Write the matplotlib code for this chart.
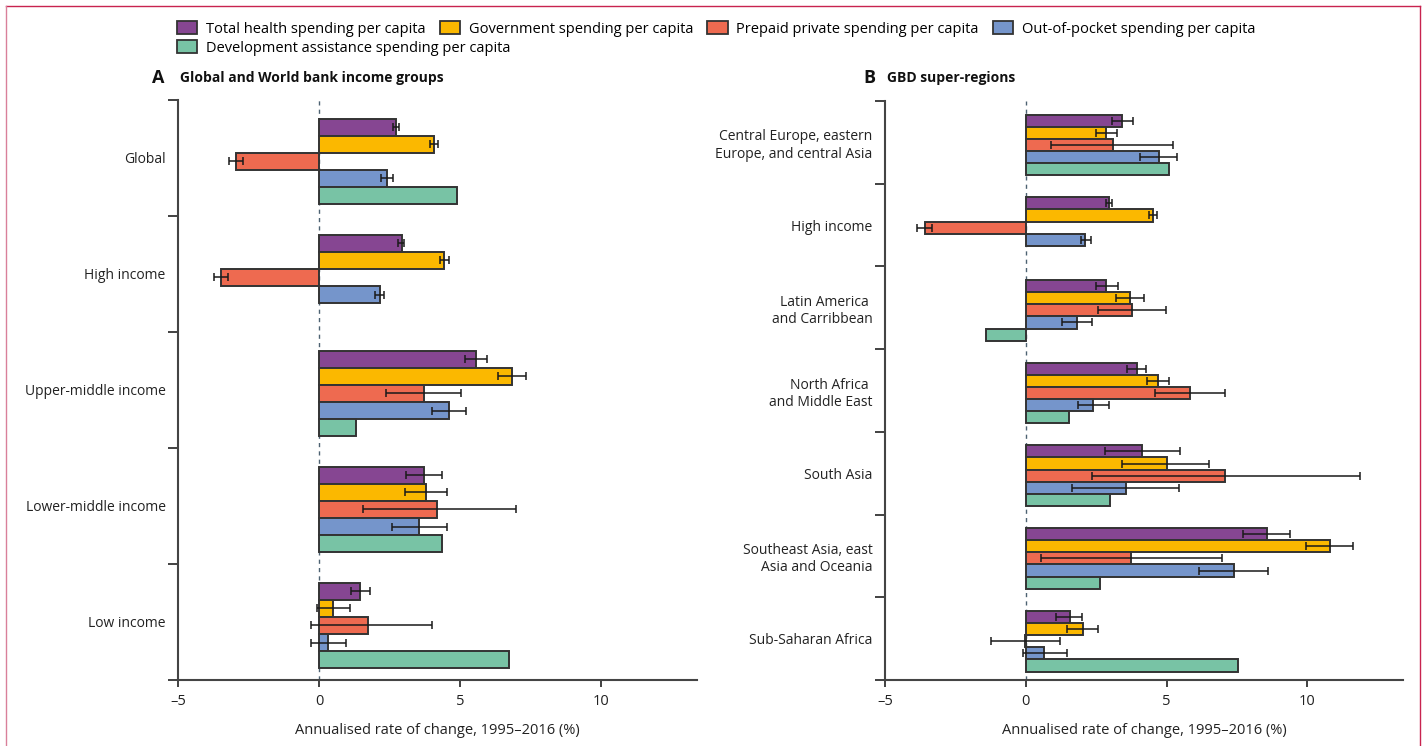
import numpy as np
import matplotlib
matplotlib.use('Agg')
import matplotlib.pyplot as plt
from matplotlib.patches import Patch
from matplotlib.lines import Line2D
from matplotlib import font_manager

nan = np.nan

# ---------------- data: panel A ----------------
groups_a = ['Global', 'High income', 'Upper-middle income', 'Lower-middle income', 'Low income']
total_a = [2.72, 2.93, 5.55, 3.71, 1.46]
total_a_lo = [2.62, 2.81, 5.17, 3.10, 1.12]
total_a_hi = [2.82, 3.02, 5.94, 4.35, 1.79]
gov_a = [4.07, 4.44, 6.85, 3.80, 0.51]
gov_a_lo = [3.94, 4.30, 6.35, 3.06, -0.09]
gov_a_hi = [4.22, 4.59, 7.34, 4.55, 1.10]
prepaid_a = [-2.96, -3.49, 3.73, 4.18, 1.72]
prepaid_a_lo = [-3.20, -3.74, 2.37, 1.57, -0.29]
prepaid_a_hi = [-2.71, -3.22, 5.02, 6.99, 4.02]
oop_a = [2.40, 2.15, 4.60, 3.54, 0.33]
oop_a_lo = [2.18, 1.99, 4.01, 2.57, -0.29]
oop_a_hi = [2.61, 2.32, 5.22, 4.54, 0.96]
dah_a = [4.88, nan, 1.30, 4.35, 6.73]

# ---------------- data: panel B ----------------
groups_b = ['Central Europe, eastern\nEurope, and central Asia', 'High income',
            'Latin America \nand Carribbean', 'North Africa \nand Middle East', 'South Asia',
            'Southeast Asia, east\nAsia and Oceania', 'Sub-Saharan Africa']
total_b = [3.41, 2.95, 2.85, 3.95, 4.11, 8.55, 1.56]
total_b_lo = [3.07, 2.84, 2.51, 3.60, 2.83, 7.70, 1.08]
total_b_hi = [3.81, 3.05, 3.26, 4.26, 5.46, 9.37, 2.00]
gov_b = [2.85, 4.51, 3.69, 4.68, 5.02, 10.79, 2.02]
gov_b_lo = [2.51, 4.37, 3.19, 4.30, 3.41, 9.96, 1.45]
gov_b_hi = [3.25, 4.67, 4.19, 5.07, 6.51, 11.62, 2.56]
prepaid_b = [3.10, -3.59, 3.76, 5.82, 7.08, 3.72, -0.02]
prepaid_b_lo = [0.89, -3.86, 2.55, 4.59, 2.36, 0.53, -1.23]
prepaid_b_hi = [5.22, -3.32, 4.98, 7.08, 11.86, 6.96, 1.20]
oop_b = [4.73, 2.12, 1.81, 2.38, 3.56, 7.38, 0.66]
oop_b_lo = [4.04, 1.95, 1.29, 1.84, 1.65, 6.16, -0.11]
oop_b_hi = [5.37, 2.31, 2.36, 2.96, 5.45, 8.62, 1.47]
dah_b = [5.10, nan, -1.43, 1.54, 2.99, 2.63, 7.52]

series_names = ['Total health spending per capita', 'Government spending per capita',
                'Prepaid private spending per capita', 'Out-of-pocket spending per capita',
                'Development assistance spending per capita']
colors = ['#864692', '#FBB800', '#EE6A50', '#7595CB', '#78C3A5']
x_ticks = [-5, 0, 5, 10]
x_ticklabels = ['\u20135', '0', '5', '10']

avail = {f.name for f in font_manager.fontManager.ttflist}
main_font = 'Open Sans' if 'Open Sans' in avail else 'DejaVu Sans'
plt.rcParams['font.family'] = [main_font, 'DejaVu Sans']

edge = '#333333'
bar_h = 0.147
offset = 0.03


def draw_panel(ax, groups, values, lows, highs):
    n = len(groups)
    centers = np.arange(n) + 0.5 + offset
    for j, (vals, lo, hi) in enumerate(zip(values, lows, highs)):
        vals = np.array(vals, dtype=float)
        ys = centers + (j - 2) * bar_h
        ok = ~np.isnan(vals)
        ax.barh(ys[ok], vals[ok], height=bar_h, color=colors[j], edgecolor=edge,
                linewidth=1.4, zorder=3)
        if lo is not None:
            lo = np.array(lo, dtype=float)
            hi = np.array(hi, dtype=float)
            ax.errorbar(vals, ys, xerr=[vals - lo, hi - vals], fmt='none', ecolor='#1a1a1a',
                        elinewidth=1.1, capsize=2.8, capthick=1.1, zorder=4)
    ax.axvline(0, color='#4d6272', lw=1.0, ls=(0, (3, 3)), zorder=2)
    ax.set_ylim(n, 0)
    ax.set_xlim(-5, 13.4)
    ax.set_yticks(np.arange(n + 1))
    ax.set_yticklabels([])
    ax.set_yticks(np.arange(n) + 0.5, minor=True)
    ax.set_yticklabels(groups, minor=True, fontsize=10, multialignment='right')
    ax.tick_params(axis='y', which='major', direction='out', length=7, width=1.3, color='#333333')
    ax.tick_params(axis='y', which='minor', length=0, pad=9, labelcolor='#222222')
    ax.set_xticks(x_ticks)
    ax.set_xticklabels(x_ticklabels, fontsize=10.5, color='#222222')
    ax.tick_params(axis='x', direction='out', length=5, width=1.3, color='#333333', pad=5)
    for s in ['top', 'right']:
        ax.spines[s].set_visible(False)
    for s in ['left', 'bottom']:
        ax.spines[s].set_color('#444444')
        ax.spines[s].set_linewidth(1.5)
    ax.set_xlabel('Annualised rate of change, 1995\u20132016 (%)', fontsize=10.5,
                  color='#222222', labelpad=10)


fig = plt.figure(figsize=(14.24, 7.46), dpi=100)
ax_a = fig.add_axes([0.125, 0.0885, 0.3645, 0.7775])
ax_b = fig.add_axes([0.6215, 0.0885, 0.3638, 0.7760])

draw_panel(ax_a, groups_a,
           [total_a, gov_a, prepaid_a, oop_a, dah_a],
           [total_a_lo, gov_a_lo, prepaid_a_lo, oop_a_lo, None],
           [total_a_hi, gov_a_hi, prepaid_a_hi, oop_a_hi, None])
draw_panel(ax_b, groups_b,
           [total_b, gov_b, prepaid_b, oop_b, dah_b],
           [total_b_lo, gov_b_lo, prepaid_b_lo, oop_b_lo, None],
           [total_b_hi, gov_b_hi, prepaid_b_hi, oop_b_hi, None])

# panel titles
fig.text(152 / 1424, 1 - 78 / 746, 'A', fontsize=13, fontweight='bold', va='center', color='#111111')
fig.text(180 / 1424, 1 - 78 / 746, 'Global and World bank income groups', fontsize=10,
         fontweight='bold', va='center', color='#111111')
fig.text(863 / 1424, 1 - 78 / 746, 'B', fontsize=13, fontweight='bold', va='center', color='#111111')
fig.text(887 / 1424, 1 - 78 / 746, 'GBD super-regions', fontsize=10,
         fontweight='bold', va='center', color='#111111')

# legend: first row of four, second row of one
handles = [Patch(facecolor=c, edgecolor=edge, linewidth=1.3) for c in colors]
leg_font = {'size': 10.5}
fig.legend(handles[:4], series_names[:4], loc='center left', ncol=4,
           bbox_to_anchor=(177 / 1424, 1 - 29 / 746), frameon=False, prop=leg_font,
           handlelength=1.4, handleheight=1.0, handletextpad=0.6, columnspacing=0.95,
           borderpad=0, borderaxespad=0)
fig.legend(handles[4:], series_names[4:], loc='center left', ncol=1,
           bbox_to_anchor=(177 / 1424, 1 - 48 / 746), frameon=False, prop=leg_font,
           handlelength=1.4, handleheight=1.0, handletextpad=0.6,
           borderpad=0, borderaxespad=0)

# thin page border
bc = '#C8234F'
fig.add_artist(Line2D([6 / 1424, 1420 / 1424], [1 - 6 / 746, 1 - 6 / 746], color=bc, lw=1.0))
fig.add_artist(Line2D([6 / 1424, 6 / 1424], [0, 1 - 6 / 746], color='#D9809A', lw=1.0))
fig.add_artist(Line2D([1420 / 1424, 1420 / 1424], [0, 1 - 6 / 746], color=bc, lw=1.0))

fig.savefig('out.png', dpi=100)
